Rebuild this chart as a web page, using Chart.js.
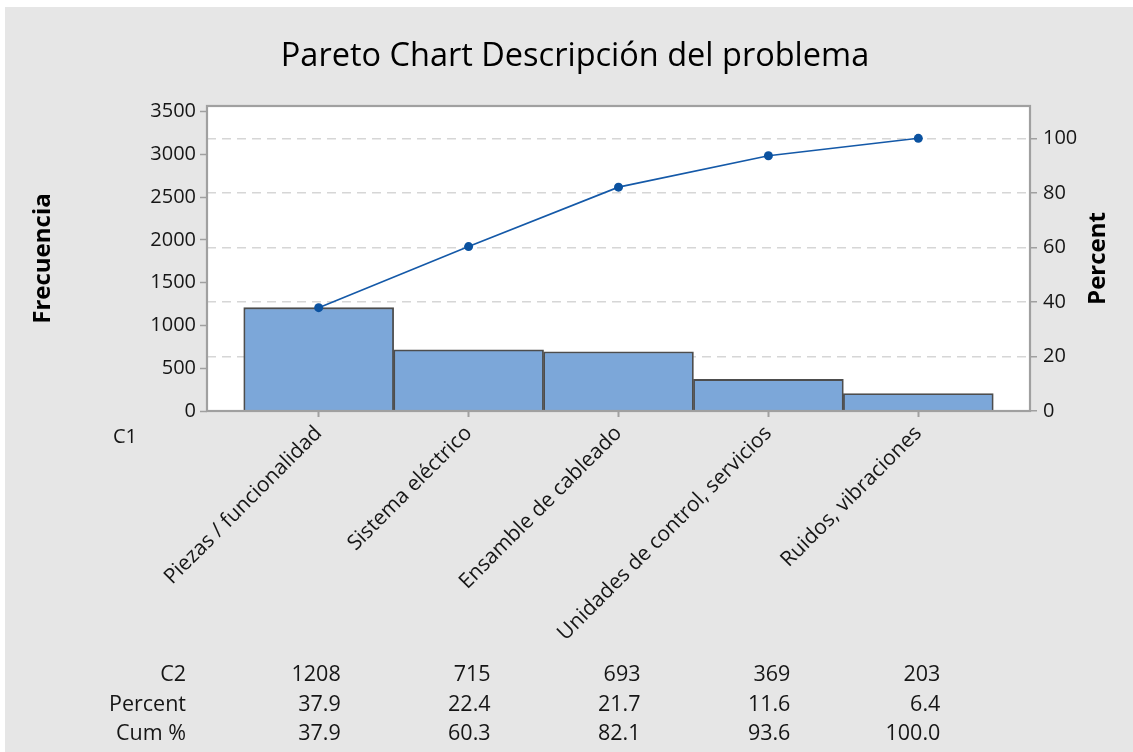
<!DOCTYPE html>
<html>
<head>
<meta charset="utf-8">
<script src="https://cdn.jsdelivr.net/npm/chart.js@4/dist/chart.umd.min.js"></script>
<style>
  html, body { margin: 0; padding: 0; background: #ffffff; }
  #wrap { width: 1133px; height: 752px; }
</style>
</head>
<body>
<div id="wrap"><canvas id="pareto"></canvas></div>
<script>
// Data
const categories = ['Piezas / funcionalidad', 'Sistema eléctrico', 'Ensamble de cableado', 'Unidades de control, servicios', 'Ruidos, vibraciones'];
const counts = [1208, 715, 693, 369, 203];
const percents = [37.9, 22.4, 21.7, 11.6, 6.4];
const cumPercents = [37.9, 60.3, 82.1, 93.6, 100.0];
const countTicks = [0, 500, 1000, 1500, 2000, 2500, 3000, 3500];
const percentTicks = [0, 20, 40, 60, 80, 100];

const FONT = "'Open Sans', 'Noto Sans', sans-serif";
const INK = '#161616';
const countMax = 3566;
const total = counts.reduce((a, b) => a + b, 0);

// background, plot frame, right axis title and the table under the chart
const paretoDecor = {
    id: 'paretoDecor',
    beforeDraw(chart) {
        const { ctx, chartArea: a, width, height } = chart;
        ctx.save();
        ctx.fillStyle = '#ffffff';
        ctx.fillRect(0, 0, width, height);
        ctx.fillStyle = '#e6e6e6';
        ctx.fillRect(5, 7, width - 5, height - 7);
        ctx.fillStyle = '#ffffff';
        ctx.fillRect(a.left, a.top, a.right - a.left, a.bottom - a.top);
        ctx.restore();
    },
    afterDatasetsDraw(chart) {
        const { ctx, chartArea: a } = chart;
        ctx.save();
        ctx.strokeStyle = '#a0a0a0';
        ctx.lineWidth = 2.2;
        ctx.strokeRect(a.left, a.top, a.right - a.left, a.bottom - a.top);
        ctx.restore();
    },
    afterDraw(chart) {
        const { ctx, chartArea: a } = chart;
        const x = chart.scales.x;
        ctx.save();
        ctx.fillStyle = '#000';
        ctx.font = `bold 24px ${FONT}`;
        ctx.textAlign = 'center';
        ctx.textBaseline = 'middle';
        ctx.translate(1098, (a.top + a.bottom) / 2);
        ctx.rotate(-Math.PI / 2);
        ctx.fillText('Percent', 0, 0);
        ctx.restore();

        ctx.save();
        ctx.fillStyle = INK;
        ctx.font = `20px ${FONT}`;
        ctx.textBaseline = 'middle';
        ctx.textAlign = 'left';
        ctx.fillText('C1', 113, 437);
        ctx.font = `21.5px ${FONT}`;
        const rows = [
            ['C2', counts.map(v => String(v))],
            ['Percent', percents.map(v => v.toFixed(1))],
            ['Cum %', cumPercents.map(v => v.toFixed(1))]
        ];
        ctx.textAlign = 'right';
        rows.forEach((row, r) => {
            const y = 675 + r * 29.5;
            ctx.fillText(row[0], 186, y);
            row[1].forEach((txt, i) => {
                ctx.fillText(txt, x.getPixelForValue(i) + 22, y);
            });
        });
        ctx.restore();
    }
};

const ctx = document.getElementById('pareto').getContext('2d');
new Chart(ctx, {
    type: 'bar',
    data: {
        datasets: [{
            type: 'line',
            label: 'Cum %',
            data: cumPercents.map((v, i) => ({ x: i, y: v })),
            yAxisID: 'y2',
            borderColor: '#1459a8',
            borderWidth: 1.6,
            pointRadius: 4.5,
            pointBackgroundColor: '#0b52a0',
            pointBorderColor: '#0b52a0',
            pointBorderWidth: 0,
            tension: 0
        }, {
            label: 'C2',
            data: counts.map((v, i) => ({ x: i, y: v })),
            yAxisID: 'y',
            backgroundColor: '#7ca7d9',
            borderColor: '#4d4d4d',
            borderWidth: 1.8,
            categoryPercentage: 1,
            barPercentage: 1
        }]
    },
    options: {
        responsive: true,
        maintainAspectRatio: false,
        animation: false,
        layout: { padding: { left: 17, right: 0, top: 0, bottom: 0 } },
        plugins: {
            legend: { display: false },
            tooltip: { enabled: false },
            title: {
                display: true,
                text: 'Pareto Chart Descripción del problema',
                color: '#000',
                font: { family: FONT, size: 32.5, weight: 'normal', lineHeight: 1.2 },
                padding: { top: 37.5, bottom: 29.5 }
            }
        },
        scales: {
            x: {
                type: 'linear',
                offset: false,
                min: -0.745,
                max: 4.745,
                afterFit: s => { s.height = 341; },
                afterBuildTicks: s => { s.ticks = categories.map((c, i) => ({ value: i })); },
                grid: { offset: false, drawOnChartArea: false, drawTicks: true, tickLength: 6, tickColor: '#a0a0a0', tickWidth: 2 },
                border: { display: false },
                ticks: {
                    autoSkip: false,
                    minRotation: 45,
                    maxRotation: 45,
                    padding: 4,
                    color: INK,
                    font: { family: FONT, size: 21 },
                    callback: v => categories[v]
                }
            },
            y: {
                position: 'left',
                min: 0,
                max: countMax,
                afterFit: s => { s.width = 190; },
                afterBuildTicks: s => { s.ticks = countTicks.map(v => ({ value: v })); },
                grid: { drawOnChartArea: false, drawTicks: true, tickLength: 7, tickColor: '#a0a0a0', tickWidth: 1.5 },
                border: { display: false },
                ticks: { padding: 4, color: INK, font: { family: FONT, size: 20 }, callback: v => String(v) },
                title: {
                    display: true,
                    text: 'Frecuencia',
                    color: '#000',
                    font: { family: FONT, size: 24, weight: 'bold', lineHeight: 1.2 },
                    padding: { top: 12 }
                }
            },
            y2: {
                position: 'right',
                min: 0,
                max: countMax / total * 100,
                afterFit: s => { s.width = 103; },
                afterBuildTicks: s => { s.ticks = percentTicks.map(v => ({ value: v })); },
                grid: {
                    drawOnChartArea: true,
                    color: '#d6d6d6',
                    lineWidth: 1.5,
                    drawTicks: true,
                    tickLength: 7,
                    tickColor: '#a0a0a0',
                    tickWidth: 1.5,
                    tickBorderDash: []
                },
                border: { display: false, dash: [9, 6] },
                ticks: { padding: 6, color: INK, font: { family: FONT, size: 20 }, callback: v => String(v) }
            }
        }
    },
    plugins: [paretoDecor]
});
</script>
</body>
</html>
